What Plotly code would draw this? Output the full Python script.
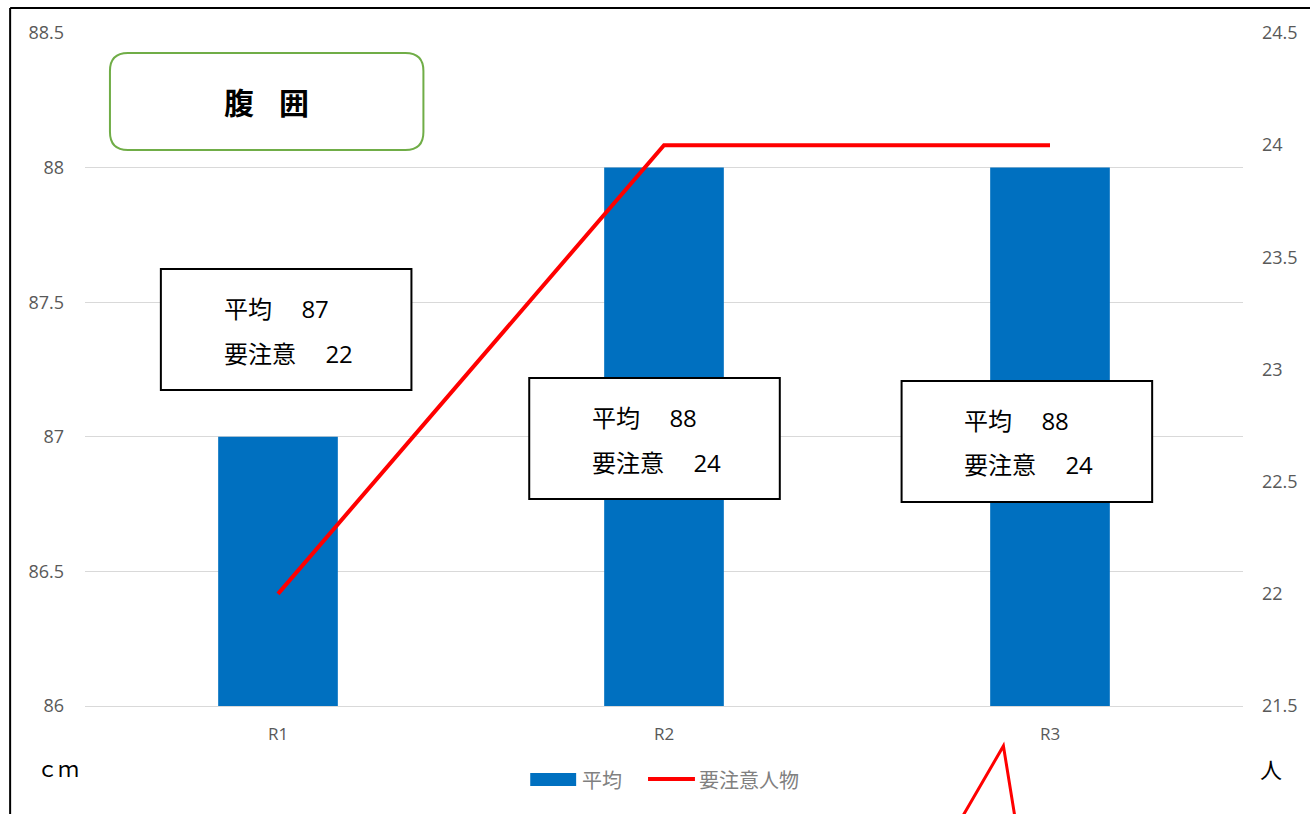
import plotly.graph_objects as go

categories = ["R1", "R2", "R3"]
avg_waist = [87, 88, 88]
caution_count = [22, 24, 24]
left_ticks = [86, 86.5, 87, 87.5, 88, 88.5]
right_ticks = [21.5, 22, 22.5, 23, 23.5, 24, 24.5]
series_names = ["平均", "要注意人物"]
title_text = "腹 囲"

W, H = 1310, 814
L, R, T, B = 85, 1245, 33, 706
PW, PH = R - L, B - T


def px(x):
    return (x - L) / PW


def py(y):
    return (B - y) / PH


JP = "Noto Sans CJK JP"
NUM = "Open Sans, Noto Sans CJK JP"
GRAY = "#595959"

fig = go.Figure()
fig.add_trace(go.Bar(x=categories, y=avg_waist, name=series_names[0],
                     marker=dict(color="#0070c0", line=dict(width=0)),
                     width=0.31, showlegend=False))
fig.add_trace(go.Scatter(x=categories, y=caution_count, name=series_names[1],
                         mode="lines", line=dict(color="#ff0000", width=4),
                         yaxis="y2", showlegend=False))

shapes = []
annotations = []

# outer frame (partially visible)
shapes.append(dict(type="line", xref="paper", yref="paper",
                   x0=px(10), x1=px(10), y0=py(8), y1=py(830),
                   line=dict(color="black", width=2)))
shapes.append(dict(type="line", xref="paper", yref="paper",
                   x0=px(10), x1=px(1320), y0=py(8), y1=py(8),
                   line=dict(color="black", width=2)))

# title rounded box
x0, x1, y0, y1, r = 110, 424, 53, 150, 18
path = (f"M {px(x0 + r)},{py(y0)} L {px(x1 - r)},{py(y0)} "
        f"Q {px(x1)},{py(y0)} {px(x1)},{py(y0 + r)} "
        f"L {px(x1)},{py(y1 - r)} Q {px(x1)},{py(y1)} {px(x1 - r)},{py(y1)} "
        f"L {px(x0 + r)},{py(y1)} Q {px(x0)},{py(y1)} {px(x0)},{py(y1 - r)} "
        f"L {px(x0)},{py(y0 + r)} Q {px(x0)},{py(y0)} {px(x0 + r)},{py(y0)} Z")
shapes.append(dict(type="path", xref="paper", yref="paper", path=path,
                   line=dict(color="#70ad47", width=2), fillcolor="white"))
annotations.append(dict(xref="paper", yref="paper", x=px(267), y=py(101),
                        text="<b>" + title_text.replace(" ", "\u2002\u2004") + "</b>",
                        showarrow=False,
                        font=dict(family=JP, size=30, color="black"),
                        xanchor="center", yanchor="middle"))

# info boxes
boxes = [(161, 269), (530, 378), (903, 381)]
for i, (bx, by) in enumerate(boxes):
    shapes.append(dict(type="rect", xref="paper", yref="paper",
                       x0=px(bx), x1=px(bx + 251), y0=py(by), y1=py(by + 121),
                       line=dict(color="black", width=2), fillcolor="white"))
    annotations.append(dict(xref="paper", yref="paper", x=px(bx + 61), y=py(by + 38),
                            text=f"平均　 <span style='font-family:Open Sans'>{avg_waist[i]}</span>",
                            showarrow=False, xanchor="left", yanchor="middle",
                            font=dict(family=JP, size=24, color="black")))
    annotations.append(dict(xref="paper", yref="paper", x=px(bx + 61), y=py(by + 83),
                            text=f"要注意　 <span style='font-family:Open Sans'>{caution_count[i]}</span>",
                            showarrow=False, xanchor="left", yanchor="middle",
                            font=dict(family=JP, size=24, color="black")))

# callout pointer at bottom
shapes.append(dict(type="path", xref="paper", yref="paper",
                   path=f"M {px(962)},{py(820)} L {px(1005)},{py(746)} L {px(1017)},{py(820)}",
                   line=dict(color="#ff0000", width=3)))

# custom legend
shapes.append(dict(type="rect", xref="paper", yref="paper",
                   x0=px(531), x1=px(577), y0=py(773), y1=py(786),
                   line=dict(width=0), fillcolor="#0070c0"))
annotations.append(dict(xref="paper", yref="paper", x=px(581), y=py(779),
                        text=series_names[0], showarrow=False, xanchor="left",
                        yanchor="middle", font=dict(family=JP, size=20, color="#808080")))
shapes.append(dict(type="line", xref="paper", yref="paper",
                   x0=px(649), x1=px(696), y0=py(779), y1=py(779),
                   line=dict(color="#ff0000", width=4)))
annotations.append(dict(xref="paper", yref="paper", x=px(698), y=py(779),
                        text=series_names[1], showarrow=False, xanchor="left",
                        yanchor="middle", font=dict(family=JP, size=20, color="#808080")))

# unit labels
annotations.append(dict(xref="paper", yref="paper", x=px(58), y=py(768),
                        text="ｃｍ", showarrow=False, xanchor="center", yanchor="middle",
                        font=dict(family=JP, size=21, color="black")))
annotations.append(dict(xref="paper", yref="paper", x=px(1273), y=py(768),
                        text="人", showarrow=False, xanchor="center", yanchor="middle",
                        font=dict(family=JP, size=22, color="black")))

fig.update_layout(
    width=W, height=H,
    margin=dict(l=L, r=W - R, t=T, b=H - B, pad=0),
    paper_bgcolor="white", plot_bgcolor="white",
    showlegend=False,
    shapes=shapes, annotations=annotations,
    xaxis=dict(type="category", showgrid=False, zeroline=False,
               showline=True, linecolor="#d9d9d9", linewidth=1,
               tickfont=dict(family=NUM, size=17, color=GRAY),
               ticks="", ticklabelstandoff=13),
    yaxis=dict(range=[86, 88.5], tickvals=left_ticks,
               ticktext=[f"{v:g}" for v in left_ticks],
               showgrid=True, gridcolor="#d9d9d9", gridwidth=1,
               zeroline=False, showline=False,
               tickfont=dict(family=NUM, size=18, color=GRAY),
               ticks="", ticklabelstandoff=20),
    yaxis2=dict(range=[21.5, 24.5], tickvals=right_ticks,
                ticktext=[f"{v:g}" for v in right_ticks],
                overlaying="y", side="right", showgrid=False,
                zeroline=False, showline=False,
                tickfont=dict(family=NUM, size=18, color=GRAY),
                ticks="", ticklabelstandoff=18),
)

fig.write_html("out.html")
